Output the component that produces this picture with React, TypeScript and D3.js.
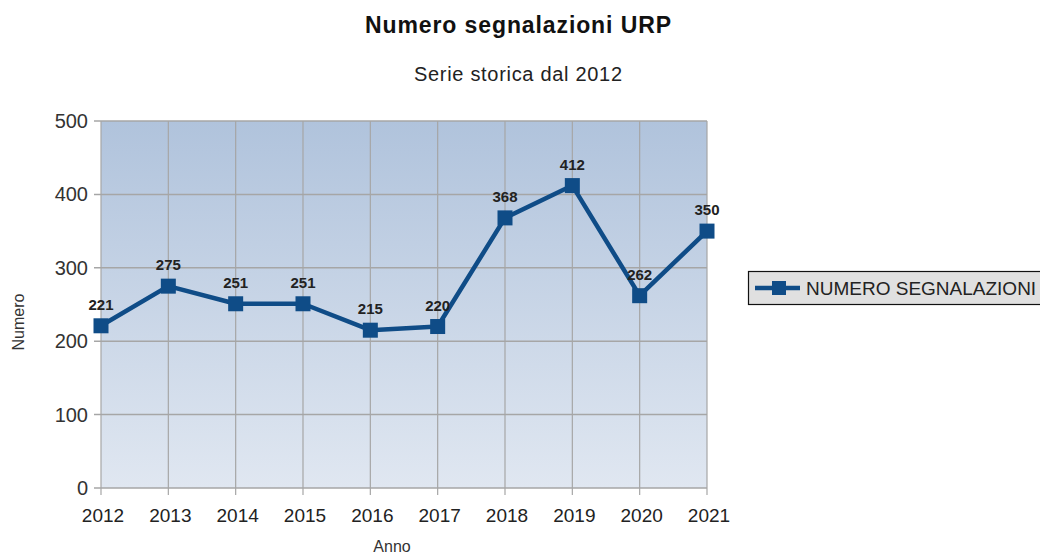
import React from "react";
import * as d3 from "d3";

const years = ["2012", "2013", "2014", "2015", "2016", "2017", "2018", "2019", "2020", "2021"];
const segnalazioni = [221, 275, 251, 251, 215, 220, 368, 412, 262, 350];
const yTicks = [0, 100, 200, 300, 400, 500];

const W = 1040;
const H = 558;
const left = 101;
const right = 707;
const top = 121;
const bottom = 488;
const lineColor = "#0f4c87";
const font = "Liberation Sans, Arial, sans-serif";

export default function App() {
  const x = d3.scalePoint<string>().domain(years).range([left, right]);
  const y = d3.scaleLinear().domain([0, 500]).range([bottom, top]);
  const line = d3
    .line<number>()
    .x((d, i) => x(years[i]) as number)
    .y((d) => y(d));

  return (
    <svg width={W} height={H} style={{ position: "absolute", left: 0, top: 0, background: "#fff" }} fontFamily={font}>
      <defs>
        <linearGradient id="bg" x1="0" y1="0" x2="0" y2="1">
          <stop offset="0" stopColor="#b0c3dc" />
          <stop offset="1" stopColor="#e0e7f1" />
        </linearGradient>
      </defs>
      <text x={518} y={33} textAnchor="middle" fontSize={23} fontWeight="bold" fill="#111" textLength={306} lengthAdjust="spacing">
        Numero segnalazioni URP
      </text>
      <text x={518} y={81} textAnchor="middle" fontSize={20} fill="#222" textLength={208} lengthAdjust="spacing">
        Serie storica dal 2012
      </text>

      <rect x={left} y={top} width={right - left} height={bottom - top} fill="url(#bg)" />

      {yTicks.map((t) => (
        <g key={t}>
          <line x1={left - 7} x2={right} y1={y(t)} y2={y(t)} stroke="#a6a6a6" strokeWidth={1.5} />
          <text x={88} y={y(t) + 7} textAnchor="end" fontSize={20} fill="#333">
            {t}
          </text>
        </g>
      ))}
      {years.map((yr) => (
        <g key={yr}>
          <line x1={x(yr)} x2={x(yr)} y1={top} y2={bottom + 7} stroke="#a6a6a6" strokeWidth={1.2} />
          <text x={(x(yr) as number) + 2} y={522} textAnchor="middle" fontSize={19} fill="#222">
            {yr}
          </text>
        </g>
      ))}

      <path d={line(segnalazioni) as string} fill="none" stroke={lineColor} strokeWidth={4.5} strokeLinejoin="round" />
      {segnalazioni.map((v, i) => (
        <g key={i}>
          <rect x={(x(years[i]) as number) - 7.5} y={y(v) - 7.5} width={15} height={15} fill={lineColor} />
          <text x={x(years[i])} y={y(v) - 16} textAnchor="middle" fontSize={15} fontWeight="bold" fill="#222">
            {v}
          </text>
        </g>
      ))}

      <text transform={`translate(24,322) rotate(-90)`} textAnchor="middle" fontSize={16} fill="#333">
        Numero
      </text>
      <text x={392} y={552} textAnchor="middle" fontSize={16} fill="#333">
        Anno
      </text>

      <rect x={748.5} y={271.5} width={300} height={33} fill="#e0e0e0" stroke="#111" strokeWidth={1.2} />
      <line x1={755} x2={800} y1={288} y2={288} stroke={lineColor} strokeWidth={4.5} />
      <rect x={772} y={281} width={14} height={14} fill={lineColor} />
      <text x={806} y={295} fontSize={19} fill="#222">
        NUMERO SEGNALAZIONI
      </text>
    </svg>
  );
}
